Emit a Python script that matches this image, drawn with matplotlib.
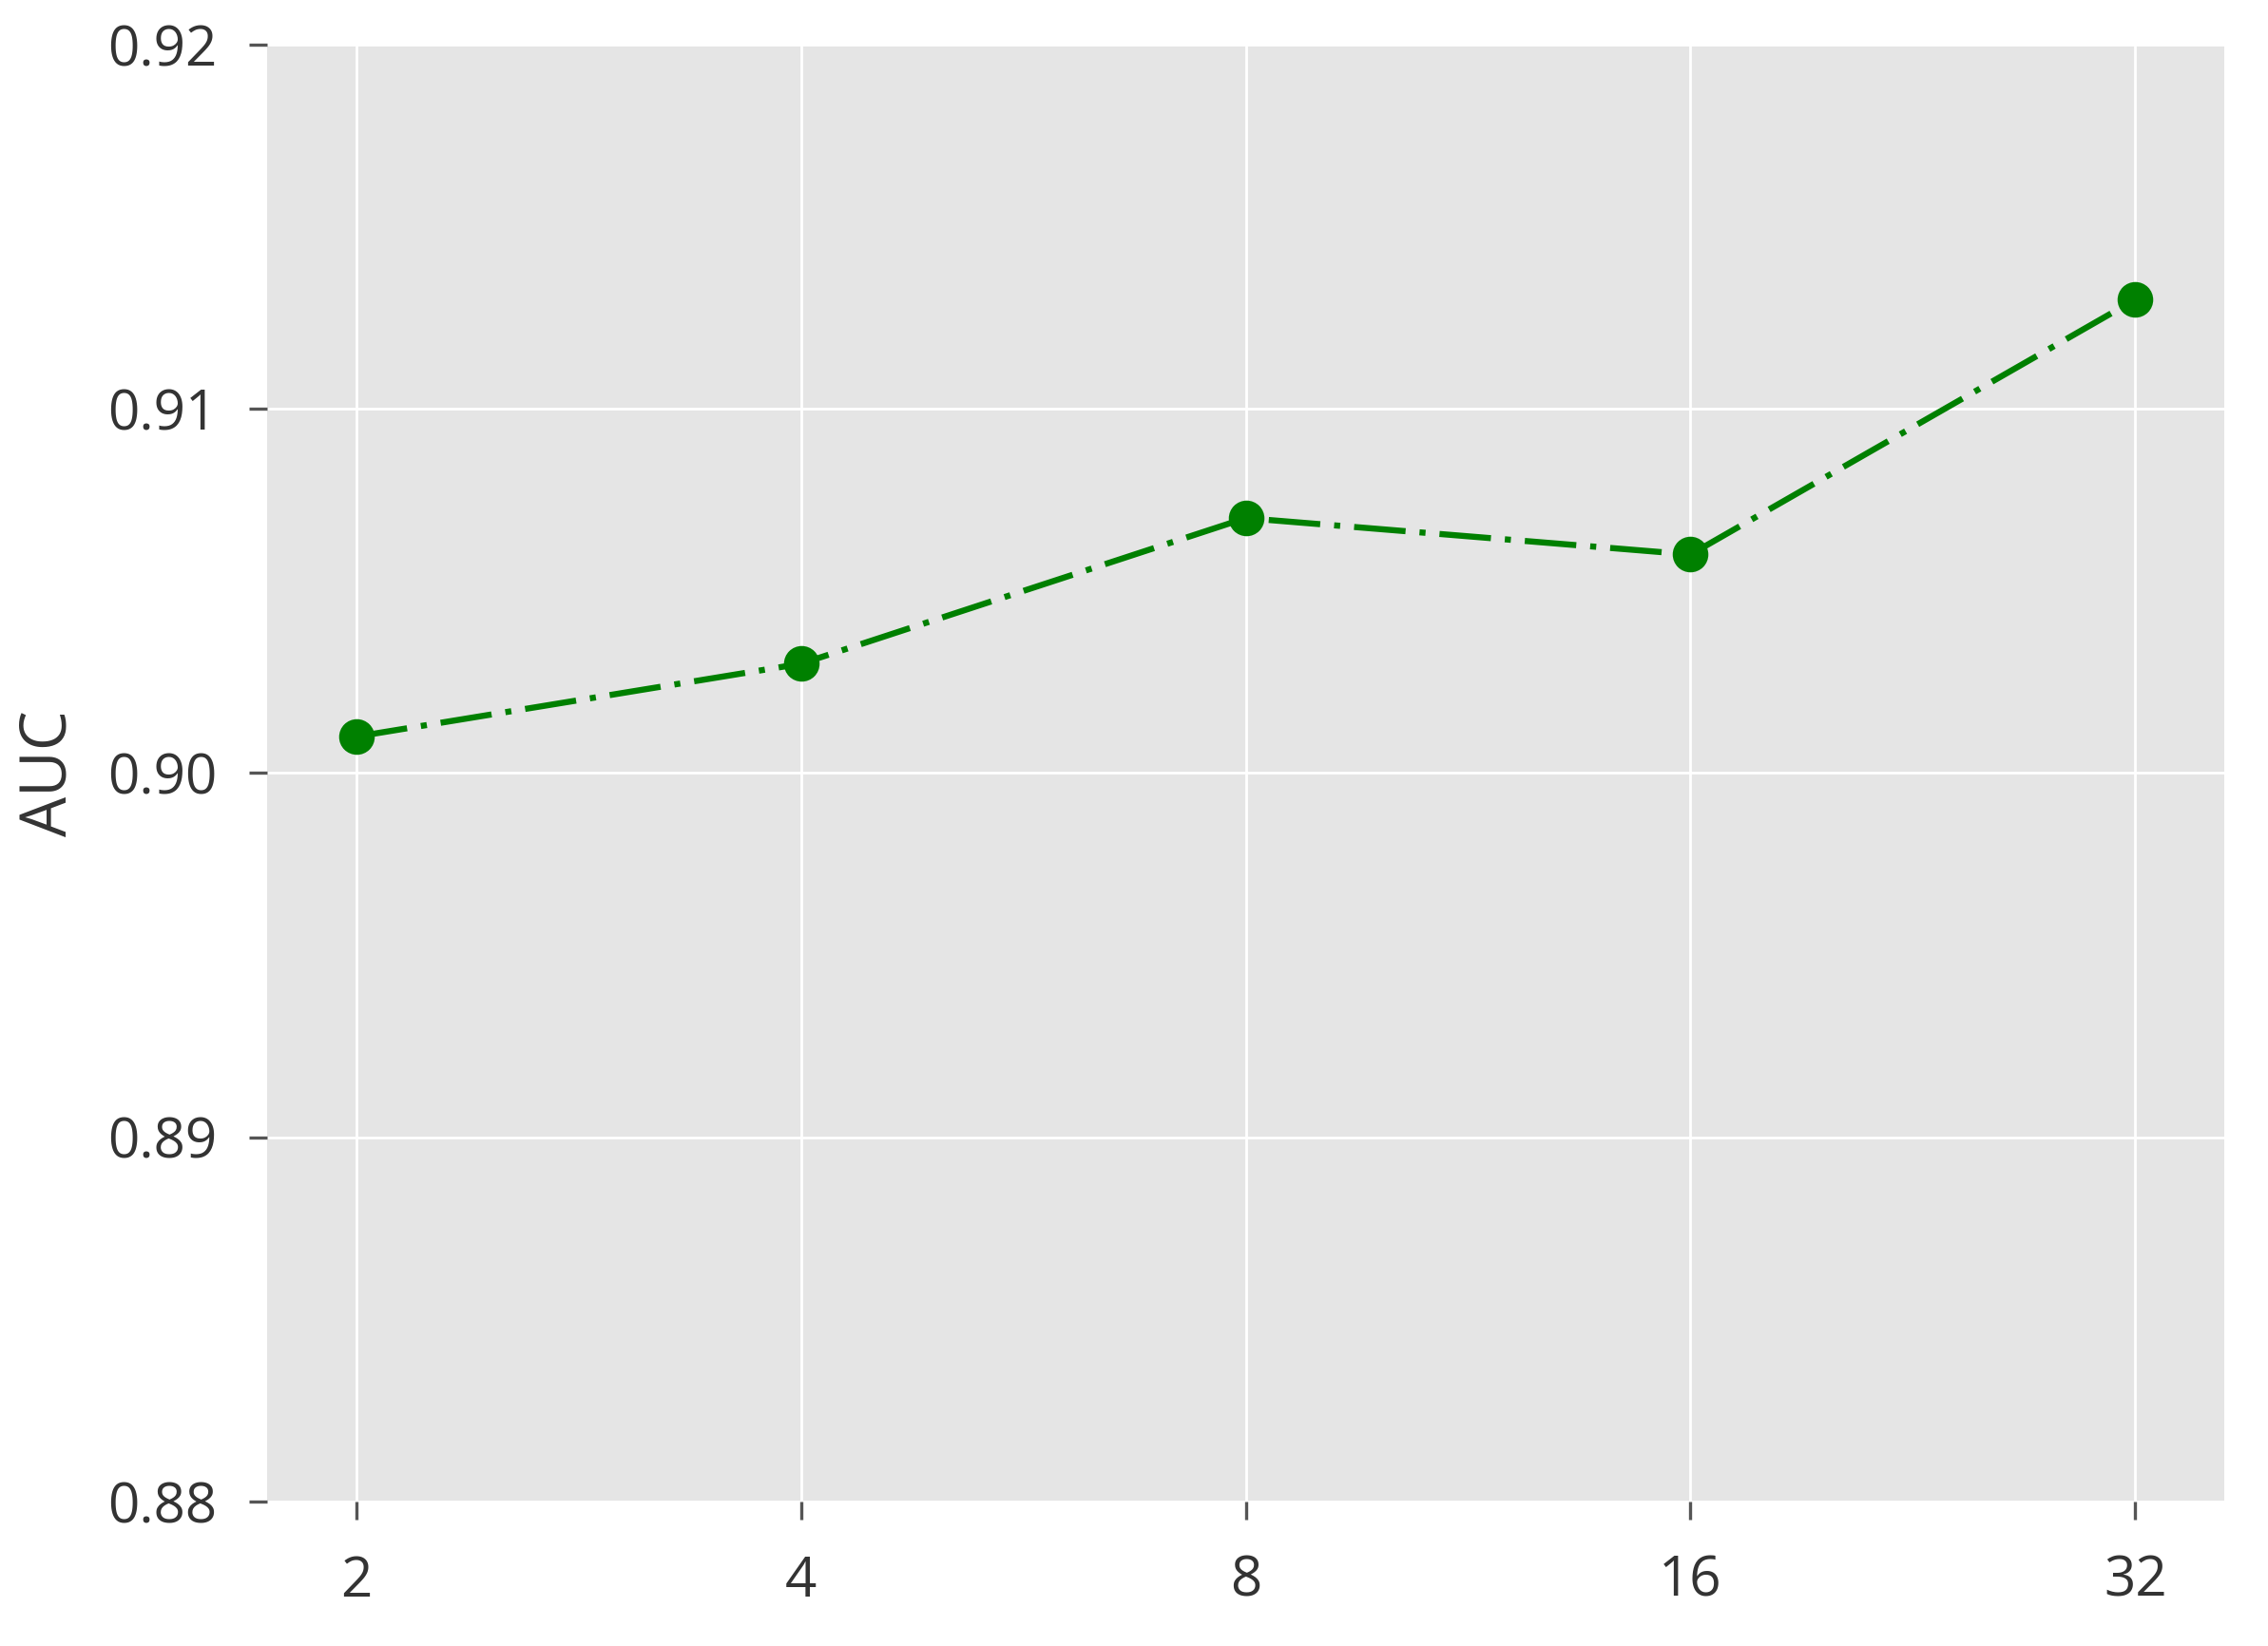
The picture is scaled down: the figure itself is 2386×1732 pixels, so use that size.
import matplotlib
matplotlib.use('Agg')
import matplotlib.pyplot as plt

# data
GROUPS = ['2', '4', '8', '16', '32']
AUC = [0.901, 0.903, 0.907, 0.906, 0.913]
Y_TICKS = [0.88, 0.89, 0.90, 0.91, 0.92]

FONT_SIZE = 21
LABEL_SIZE = 24
TEXT_COLOR = '#333333'


def do_plot():
    plt.style.use('ggplot')
    plt.rcParams['font.family'] = ['Open Sans', 'DejaVu Sans']

    fig = plt.figure(figsize=(11.93, 8.66), dpi=200)
    ax = fig.add_axes([0.1178, 0.0878, 0.8629, 0.8851])
    ax.set_facecolor('#E5E5E5')

    x = list(range(len(GROUPS)))
    ax.plot(x, AUC, color='green', lw=2.3,
            linestyle=(0, (8.5, 2.3, 1, 2.3)), dash_capstyle='butt',
            marker='o', markersize=13.5, markeredgewidth=0, zorder=3)

    ax.set_xlim(-0.2, len(GROUPS) - 1 + 0.2)
    ax.set_ylim(0.88, 0.92)
    ax.set_xticks(x)
    ax.set_xticklabels(GROUPS)
    ax.set_yticks(Y_TICKS)
    ax.set_yticklabels(['%.2f' % v for v in Y_TICKS])

    ax.grid(True, color='white', lw=1.0)
    for s in ax.spines.values():
        s.set_visible(False)

    ax.tick_params(axis='both', direction='out', length=7, width=1.2,
                   color='#555555', labelsize=FONT_SIZE,
                   labelcolor=TEXT_COLOR)
    ax.tick_params(axis='x', pad=13)
    ax.tick_params(axis='y', pad=12)
    ax.set_ylabel('AUC', fontsize=LABEL_SIZE, color=TEXT_COLOR, labelpad=10)

    fig.savefig('out.png', dpi=200, facecolor='white')


if __name__ == '__main__':
    do_plot()
